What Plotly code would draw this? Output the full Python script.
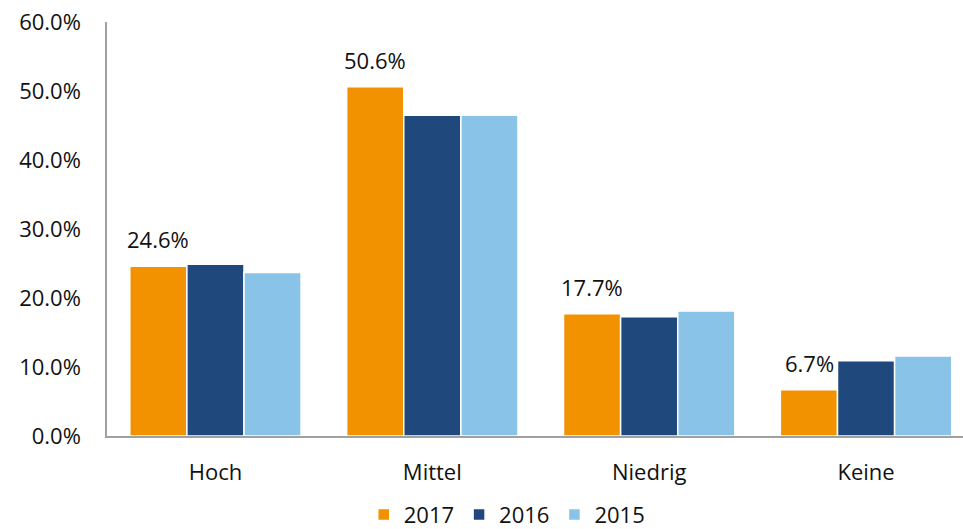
import plotly.graph_objects as go

categories = ["Hoch", "Mittel", "Niedrig", "Keine"]
years = ["2017", "2016", "2015"]
v2017 = [24.6, 50.6, 17.7, 6.7]
v2016 = [24.9, 46.5, 17.3, 10.9]
v2015 = [23.7, 46.5, 18.1, 11.6]
tick_vals = [0, 10, 20, 30, 40, 50, 60]
tick_text = ["0.0%", "10.0%", "20.0%", "30.0%", "40.0%", "50.0%", "60.0%"]

colors = ["#F39200", "#1F497D", "#89C4E8"]
font_family = "Open Sans, Noto Sans, sans-serif"
fs = 22

fig = go.Figure()
for name, vals, col in zip(years, [v2017, v2016, v2015], colors):
    fig.add_trace(go.Bar(
        name=name, x=categories, y=vals,
        marker=dict(color=col, line=dict(color="white", width=1.5)),
        hoverinfo="x+y",
    ))

for c, v in zip(categories, v2017):
    fig.add_annotation(
        x=c, y=v, xref="x", yref="y",
        text=f"{v:.1f}%", showarrow=False,
        xshift=-57, yshift=27,
        font=dict(size=fs, color="#111111", family=font_family),
    )

fig.update_layout(
    width=963, height=529,
    margin=dict(l=107, r=0, t=22, b=93, autoexpand=False),
    plot_bgcolor="white", paper_bgcolor="white",
    barmode="group", bargap=0.21, bargroupgap=0.0,
    font=dict(family=font_family, size=fs, color="#111111"),
    showlegend=True,
    legend=dict(orientation="h", x=0.467, xanchor="center", y=-0.19, yanchor="middle",
                font=dict(size=fs), itemwidth=30, traceorder="normal"),
    xaxis=dict(
        range=[-0.5, 3.447], showgrid=False, showline=True, automargin=False,
        linecolor="#A0A0A0", linewidth=1.5, ticks="", ticklabelstandoff=16,
        tickfont=dict(size=fs),
    ),
    yaxis=dict(
        range=[0, 60], tickvals=tick_vals, ticktext=tick_text, automargin=False,
        showgrid=False, showline=True, linecolor="#A0A0A0", linewidth=1.5,
        ticks="", zeroline=False, tickfont=dict(size=fs), ticklabelstandoff=20,
        ticklabeloverflow="allow",
    ),
)

fig.write_html(
    "out.html",
    config={"displayModeBar": False},
    post_script="document.body.style.margin='0';document.body.style.overflow='hidden';",
)
